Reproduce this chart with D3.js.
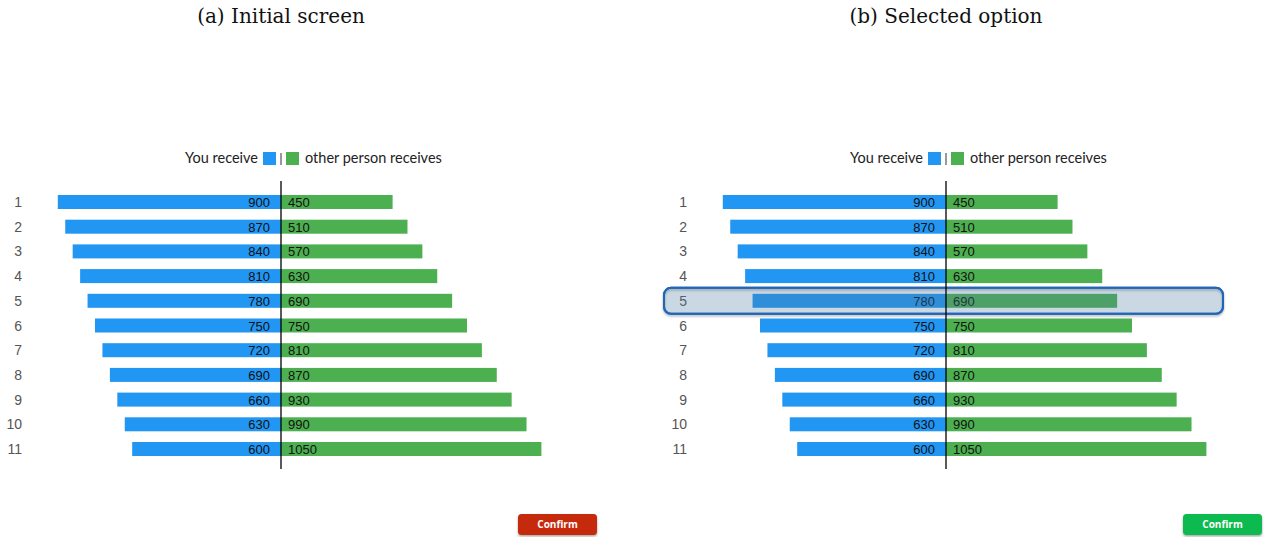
<!DOCTYPE html>
<html>
<head>
<meta charset="utf-8">
<script src="https://cdn.jsdelivr.net/npm/d3@7"></script>
<style>
  body { margin: 0; background: #fff; }
  svg { display: block; }
</style>
</head>
<body>
<div id="plot"></div>
<script>
// Data
const options = ["1", "2", "3", "4", "5", "6", "7", "8", "9", "10", "11"];
const youReceive = [900, 870, 840, 810, 780, 750, 720, 690, 660, 630, 600];
const otherReceives = [450, 510, 570, 630, 690, 750, 810, 870, 930, 990, 1050];
const panelTitles = ["(a) Initial screen", "(b) Selected option"];
const selectedOption = [null, "5"];
const buttonLabel = "Confirm";

const width = 1265, height = 537;
const centers = [281, 946];
const barH = 14;

const svg = d3.select("#plot")
  .append("svg")
    .attr("width", width)
    .attr("height", height);

const defs = svg.append("defs");
const shadow = defs.append("filter").attr("id", "shadow")
  .attr("x", "-10%").attr("y", "-30%").attr("width", "120%").attr("height", "170%");
shadow.append("feDropShadow")
  .attr("dx", 0).attr("dy", 1.5).attr("stdDeviation", 1.2)
  .attr("flood-color", "#000").attr("flood-opacity", 0.35);

// scales shared by both panels
const w = d3.scaleLinear().domain([0, 1000]).range([0, 248]);
const y = d3.scalePoint().domain(options).range([202, 449]);

const data = options.map((o, i) => ({ opt: o, you: youReceive[i], other: otherReceives[i] }));

panelTitles.forEach((title, p) => {
  const cx = centers[p];
  const g = svg.append("g").attr("transform", `translate(${cx},0)`);

  // title
  g.append("text")
    .attr("x", 0).attr("y", 23)
    .attr("text-anchor", "middle")
    .style("font-family", "'DejaVu Serif', serif")
    .style("font-size", "20px")
    .attr("fill", "#111")
    .text(title);

  // legend
  const lg = g.append("g").style("font-family", "Lato, sans-serif").style("font-size", "14.5px");
  lg.append("text").attr("x", -23).attr("y", 163).attr("text-anchor", "end").attr("fill", "#222").text("You receive");
  lg.append("rect").attr("x", -18).attr("y", 152).attr("width", 13).attr("height", 13).attr("fill", "#2196f3");
  lg.append("line").attr("x1", 0).attr("x2", 0).attr("y1", 153).attr("y2", 165).attr("stroke", "#333").attr("stroke-width", 1);
  lg.append("rect").attr("x", 5).attr("y", 152).attr("width", 13).attr("height", 13).attr("fill", "#4caf50");
  lg.append("text").attr("x", 24).attr("y", 163).attr("fill", "#222").text("other person receives");

  // row labels
  g.selectAll(".rowlabel")
    .data(data)
    .join("text")
      .attr("class", "rowlabel")
      .attr("x", -259)
      .attr("y", d => y(d.opt) + 5)
      .attr("text-anchor", "end")
      .style("font-family", "'Liberation Sans', Arial, sans-serif")
      .style("font-size", "14px")
      .attr("fill", "#555")
      .text(d => d.opt);

  // bars
  g.selectAll(".you")
    .data(data)
    .join("rect")
      .attr("class", "you")
      .attr("x", d => -w(d.you))
      .attr("y", d => y(d.opt) - barH / 2)
      .attr("width", d => w(d.you))
      .attr("height", barH)
      .attr("fill", "#2196f3");

  g.selectAll(".other")
    .data(data)
    .join("rect")
      .attr("class", "other")
      .attr("x", 0)
      .attr("y", d => y(d.opt) - barH / 2)
      .attr("width", d => w(d.other))
      .attr("height", barH)
      .attr("fill", "#4caf50");

  // values
  const vals = g.append("g")
    .style("font-family", "'Liberation Sans', Arial, sans-serif")
    .style("font-size", "13px")
    .attr("fill", "#111");
  vals.selectAll(".yv")
    .data(data)
    .join("text")
      .attr("x", -11)
      .attr("y", d => y(d.opt) + 5)
      .attr("text-anchor", "end")
      .text(d => d.you);
  vals.selectAll(".ov")
    .data(data)
    .join("text")
      .attr("x", 7)
      .attr("y", d => y(d.opt) + 5)
      .text(d => d.other);

  // selected row highlight (shadow on the outline only, so the fill stays light)
  if (selectedOption[p] !== null) {
    const hy = y(selectedOption[p]) - 13;
    g.append("rect")
      .attr("x", -282).attr("y", hy)
      .attr("width", 559).attr("height", 26)
      .attr("rx", 7)
      .attr("fill", "none")
      .attr("stroke", "#1f66b8")
      .attr("stroke-width", 2)
      .attr("filter", "url(#shadow)");
    g.append("rect")
      .attr("x", -282).attr("y", hy)
      .attr("width", 559).attr("height", 26)
      .attr("rx", 7)
      .attr("fill", "rgb(80,126,161)")
      .attr("fill-opacity", 0.3)
      .attr("stroke", "#1f66b8")
      .attr("stroke-width", 2);
  }

  // center line
  g.append("line")
    .attr("x1", 0).attr("x2", 0)
    .attr("y1", 181).attr("y2", 469)
    .attr("stroke", "#000")
    .attr("stroke-width", 1.3);

  // confirm button
  const btn = g.append("g").attr("transform", "translate(237,514)");
  btn.append("rect")
    .attr("width", 79).attr("height", 21)
    .attr("rx", 3.5)
    .attr("fill", p === 0 ? "#c6290b" : "#10ba4f")
    .attr("filter", "url(#shadow)");
  btn.append("text")
    .attr("x", 39.5).attr("y", 14)
    .attr("text-anchor", "middle")
    .style("font-family", "'Open Sans', sans-serif")
    .style("font-size", "10px")
    .style("font-weight", "bold")
    .attr("fill", "#fff")
    .text(buttonLabel);
});
</script>
</body>
</html>
